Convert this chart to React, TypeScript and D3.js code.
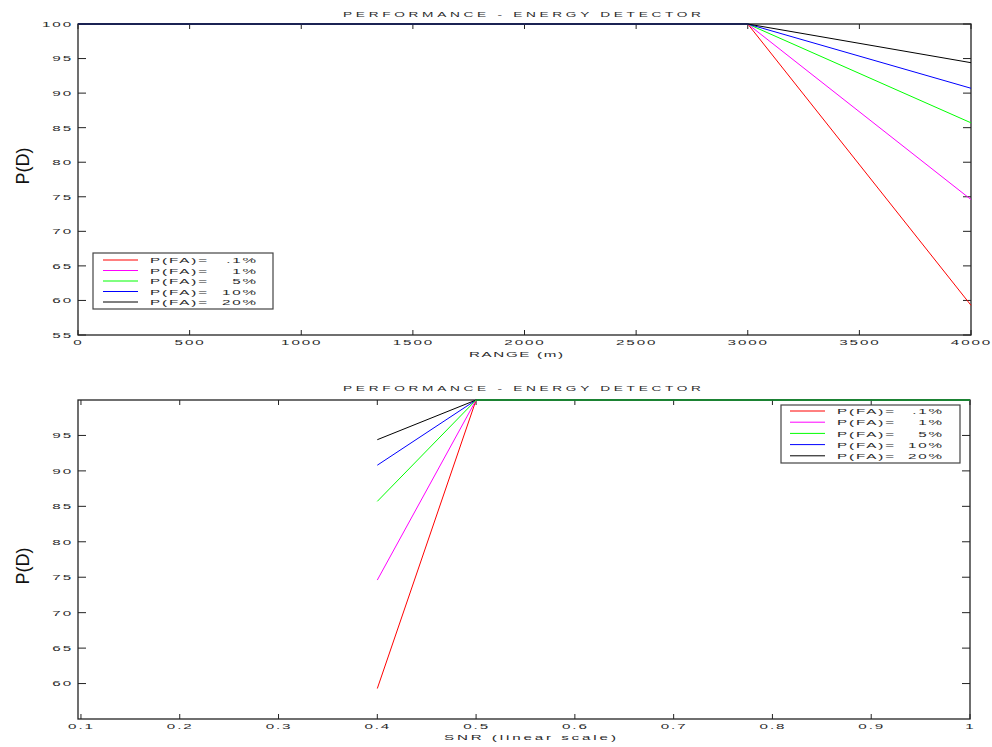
import React from "react";
import * as d3 from "d3";

// ---------- data ----------
const ranges = [0, 1000, 2000, 3000, 4000];
const snrs = [0.4, 0.5, 0.6, 0.7, 0.8, 0.9, 1.0];

const pfaNames = ["P(FA)=", "P(FA)=", "P(FA)=", "P(FA)=", "P(FA)="];
const pfaValues = [".1%", "1%", "5%", "10%", "20%"];
const seriesColors = ["#ff0000", "#ff00ff", "#00ff00", "#0000ff", "#000000"];

// P(D) vs range
const pdRangeRed = [100, 100, 100, 100, 59.3];
const pdRangeMagenta = [100, 100, 100, 100, 74.6];
const pdRangeGreen = [100, 100, 100, 100, 85.7];
const pdRangeBlue = [100, 100, 100, 100, 90.7];
const pdRangeBlack = [100, 100, 100, 100, 94.4];

// P(D) vs SNR
const pdSnrRed = [59.3, 100, 100, 100, 100, 100, 100];
const pdSnrMagenta = [74.6, 100, 100, 100, 100, 100, 100];
const pdSnrGreen = [85.7, 100, 100, 100, 100, 100, 100];
const pdSnrBlue = [90.8, 100, 100, 100, 100, 100, 100];
const pdSnrBlack = [94.4, 100, 100, 100, 100, 100, 100];

const topYTicks = [55, 60, 65, 70, 75, 80, 85, 90, 95, 100];
const bottomYTicks = [60, 65, 70, 75, 80, 85, 90, 95];

const titleText = "PERFORMANCE - ENERGY DETECTOR";
const yLabelText = "P(D)";
const topXLabel = "RANGE (m)";
const bottomXLabel = "SNR (linear scale)";

// ---------- styling ----------
const FONT = "'Liberation Sans', Arial, sans-serif";
const SX = 1.9; // horizontal stretch of the small text
const TXT = "#2a2a2a";
const AXIS = "#222";

function SText({ x, y, anchor = "start", children, len, size = 8, ls = 1 }: any) {
  return (
    <text
      transform={`translate(${x},${y}) scale(${SX},1)`}
      textAnchor={anchor}
      fontFamily={FONT}
      fontSize={size}
      fill={TXT}
      letterSpacing={len ? undefined : ls}
      textLength={len ? len / SX : undefined}
      lengthAdjust={len ? "spacing" : undefined}
    >
      {children}
    </text>
  );
}

type PanelProps = {
  xs: number[];
  series: number[][];
  order: number[];
  xDomain: [number, number];
  yDomain: [number, number];
  left: number;
  right: number;
  top: number;
  bottom: number;
  yTicks: number[];
  xTickCount: number;
  titleY: number;
  xLabel: string;
  xLabelX: number;
  xLabelW: number;
  xLabelY: number;
  xTickLabelY: number;
  yLabelY: number;
  legend: { x0: number; x1: number; y0: number; y1: number; lx0: number; lx1: number; tx: number; vx: number; rowY: number; rowStep: number };
};

function Panel(p: PanelProps) {
  const x = d3.scaleLinear().domain(p.xDomain).range([p.left, p.right]);
  const y = d3.scaleLinear().domain(p.yDomain).range([p.bottom, p.top]);
  const xTicks = x.ticks(p.xTickCount);
  const line = d3
    .line<number>()
    .x((_, i) => x(p.xs[i]))
    .y((d) => y(d));
  const fmt = (t: number) => String(+t.toFixed(2));
  const L = p.legend;
  return (
    <g>
      {/* title */}
      <SText x={522} y={p.titleY} anchor="middle" len={358} size={7.2}>
        {titleText}
      </SText>
      {/* frame */}
      <rect
        x={p.left}
        y={p.top}
        width={p.right - p.left}
        height={p.bottom - p.top}
        fill="none"
        stroke={AXIS}
        strokeWidth={1.3}
      />
      {/* x ticks */}
      {xTicks.map((t) => (
        <g key={"xt" + t}>
          <line x1={x(t)} x2={x(t)} y1={p.bottom} y2={p.bottom - 5} stroke={AXIS} strokeWidth={1} />
          <line x1={x(t)} x2={x(t)} y1={p.top} y2={p.top + 5} stroke={AXIS} strokeWidth={1} />
          <SText x={x(t) + 0.5} y={p.xTickLabelY} anchor="middle">
            {fmt(t)}
          </SText>
        </g>
      ))}
      {/* y ticks */}
      {p.yTicks.map((t) => (
        <g key={"yt" + t}>
          <line x1={p.left} x2={p.left + 8} y1={y(t)} y2={y(t)} stroke={AXIS} strokeWidth={1} />
          <line x1={p.right} x2={p.right - 8} y1={y(t)} y2={y(t)} stroke={AXIS} strokeWidth={1} />
          <SText x={p.left - 5} y={y(t) + 2.9} anchor="end">
            {fmt(t)}
          </SText>
        </g>
      ))}
      {/* data lines */}
      {p.order.map((i) => (
        <path key={"s" + i} d={line(p.series[i]) || ""} fill="none" stroke={seriesColors[i]} strokeWidth={1} />
      ))}
      {/* labels */}
      <SText x={p.xLabelX} y={p.xLabelY} anchor="middle" len={p.xLabelW}>
        {p.xLabel}
      </SText>
      <text
        transform={`translate(29,${p.yLabelY}) rotate(-90)`}
        textAnchor="middle"
        fontFamily={FONT}
        fontSize={18}
        fill="#111"
      >
        {yLabelText}
      </text>
      {/* legend */}
      <rect x={L.x0} y={L.y0} width={L.x1 - L.x0} height={L.y1 - L.y0} fill="#fff" stroke="#444" strokeWidth={1.2} />
      {pfaValues.map((v, i) => {
        const ry = L.rowY + i * L.rowStep;
        return (
          <g key={"lg" + i}>
            <line x1={L.lx0} x2={L.lx1} y1={ry} y2={ry} stroke={seriesColors[i]} strokeWidth={1} />
            <SText x={L.tx} y={ry + 3.2}>{pfaNames[i]}</SText>
            <SText x={L.vx} y={ry + 3.2} anchor="end">{v}</SText>
          </g>
        );
      })}
    </g>
  );
}

export default function App() {
  const rangeSeries = [pdRangeRed, pdRangeMagenta, pdRangeGreen, pdRangeBlue, pdRangeBlack];
  const snrSeries = [pdSnrRed, pdSnrMagenta, pdSnrGreen, pdSnrBlue, pdSnrBlack];
  return (
    <svg
      width={992}
      height={747}
      viewBox="0 0 992 747"
      style={{ position: "absolute", left: 0, top: 0, background: "#fff" }}
    >
      <rect x={0} y={0} width={992} height={747} fill="#fff" />
      <Panel
        xs={ranges}
        series={rangeSeries}
        order={[0, 1, 2, 3, 4]}
        xDomain={[0, 4000]}
        yDomain={[55, 100]}
        left={78}
        right={971}
        top={24}
        bottom={335}
        yTicks={topYTicks}
        xTickCount={8}
        titleY={17}
        xLabel={topXLabel}
        xLabelX={516}
        xLabelW={94}
        xLabelY={357}
        xTickLabelY={345}
        yLabelY={166}
        legend={{ x0: 93, x1: 273, y0: 253, y1: 309, lx0: 103, lx1: 138, tx: 150, vx: 258, rowY: 260, rowStep: 10.5 }}
      />
      <Panel
        xs={snrs}
        series={snrSeries}
        order={[0, 1, 3, 4, 2]}
        xDomain={[0.097, 1]}
        yDomain={[55, 100]}
        left={78}
        right={970}
        top={400}
        bottom={719}
        yTicks={bottomYTicks}
        xTickCount={10}
        titleY={391}
        xLabel={bottomXLabel}
        xLabelX={530}
        xLabelW={172}
        xLabelY={740}
        xTickLabelY={729}
        yLabelY={566}
        legend={{ x0: 781, x1: 960, y0: 405, y1: 463, lx0: 790, lx1: 825, tx: 837, vx: 944, rowY: 411, rowStep: 11.2 }}
      />
    </svg>
  );
}
